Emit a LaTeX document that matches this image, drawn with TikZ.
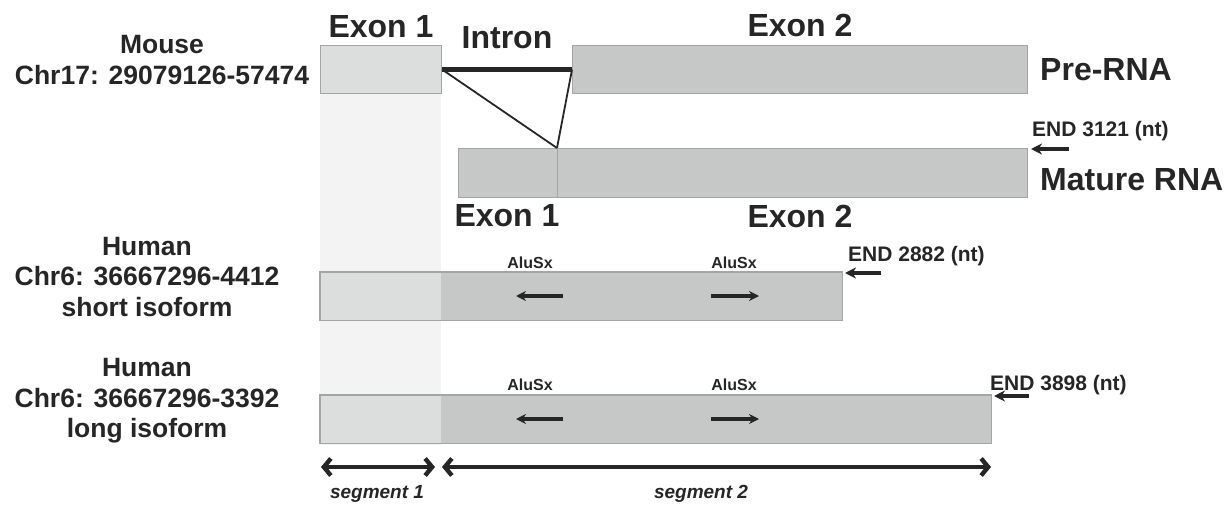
\documentclass[tikz,border=0pt]{standalone}
\usepackage{fontspec}
\setmainfont{Liberation Sans}
\usetikzlibrary{arrows.meta}
\definecolor{txt}{HTML}{262626}
\definecolor{boxA}{HTML}{C6C7C7}
\definecolor{boxB}{HTML}{DCDDDD}
\definecolor{colbg}{HTML}{F3F3F3}
\definecolor{edge}{HTML}{A4A5A5}
\begin{document}
\begin{tikzpicture}[x=1pt,y=-1pt,
  rbox/.style={draw=edge, line width=1.3pt, fill=boxA, inner sep=0pt, anchor=north west},
  pbox/.style={fill=#1, inner sep=0pt, anchor=north west, minimum height=48pt},
  big/.style={text=txt, inner sep=0pt, font=\bfseries\fontsize{32}{36}\selectfont},
  side/.style={text=txt, inner sep=0pt, align=center, font=\bfseries\fontsize{26.5}{30.5}\selectfont},
  endlab/.style={text=txt, inner sep=0pt, anchor=west, font=\bfseries\fontsize{21}{24}\selectfont},
  alu/.style={text=txt, inner sep=0pt, font=\bfseries\fontsize{16}{18}\selectfont},
  seg/.style={text=txt, inner sep=0pt, font=\bfseries\itshape\fontsize{19}{22}\selectfont},
  endarrow/.style={draw=txt, line width=3.2pt, -{Stealth[length=11pt,width=11pt]}},
  aluarrow/.style={draw=txt, line width=3.4pt, -{Stealth[length=10pt,width=10pt]}},
  segarrow/.style={draw=txt, line width=4.4pt, {Straight Barb[length=7pt,width=17pt]}-{Straight Barb[length=7pt,width=17pt]}},
]
\useasboundingbox (0,0) rectangle (1232,511);
% background column
\fill[colbg] (320,93) rectangle (441,445);

% pre-RNA
\node[rbox, fill=boxB, minimum width=121pt, minimum height=48pt] (e1) at (320,45) {};
\node[rbox, minimum width=455pt, minimum height=48pt] (e2) at (572,45) {};
\draw[txt, line width=5pt] (e1.east) -- (e2.west);

% mature RNA
\node[rbox, minimum width=99pt, minimum height=49pt] (m1) at (458,148) {};
\node[rbox, minimum width=470pt, minimum height=49pt] (m2) at (557,148) {};
\draw[txt, line width=1.8pt] (e1.east) -- (m2.north west);
\draw[txt, line width=1.8pt] (e2.west) -- (m2.north west);

% labels pre/mature
\node[big] (lx1) at (381,27) {Exon 1};
\node[big] (lin) at (507,38) {Intron};
\node[big] (lx2) at (800,25) {Exon 2};
\node[big, anchor=west] (lpre) at (1040,70) {Pre-RNA};
\node[big, anchor=west] (lmat) at (1040,180) {Mature RNA};
\node[big] (lmx1) at (507,216) {Exon 1};
\node[big] (lmx2) at (800,216) {Exon 2};
\node[endlab] (end1) at (1032,131) {END 3121 (nt)};
\coordinate (end1s) at (1069,149); \coordinate (end1e) at (1031,149);
\draw[endarrow] (end1s) -- (end1e);

% side labels
\node[side] (mouse) at (162,60) {Mouse\\Chr17: 29079126-57474};
\node[side] (hs) at (147,277) {Human\\Chr6: 36667296-4412\\short isoform};
\node[side] (hl) at (147,401) {Human\\Chr6: 36667296-3392\\long isoform};

% short isoform
\node[pbox=boxB, minimum width=121pt] (s1) at (320,272) {};
\node[pbox=boxA, minimum width=401pt] (s2) at (441,272) {};
\draw[edge, line width=1.3pt] (s1.north west) rectangle (s2.south east);
\node[alu] (sa1) at (530,263) {AluSx};
\node[alu] (sa2) at (734,263) {AluSx};
\coordinate (sa1s) at (563,296); \coordinate (sa1e) at (516,296);
\coordinate (sa2s) at (711,296); \coordinate (sa2e) at (759,296);
\draw[aluarrow] (sa1s) -- (sa1e);
\draw[aluarrow] (sa2s) -- (sa2e);
\node[endlab] (end2) at (848,256) {END 2882 (nt)};
\coordinate (end2s) at (881,273); \coordinate (end2e) at (845,273);
\draw[endarrow] (end2s) -- (end2e);

% long isoform
\node[pbox=boxB, minimum width=121pt] (l1) at (320,395) {};
\node[pbox=boxA, minimum width=550pt] (l2) at (441,395) {};
\draw[edge, line width=1.3pt] (l1.north west) rectangle (l2.south east);
\node[alu] (la1) at (530,385) {AluSx};
\node[alu] (la2) at (734,385) {AluSx};
\coordinate (la1s) at (563,419); \coordinate (la1e) at (516,419);
\coordinate (la2s) at (711,419); \coordinate (la2e) at (759,419);
\draw[aluarrow] (la1s) -- (la1e);
\draw[aluarrow] (la2s) -- (la2e);
\node[endlab] (end3) at (990,385) {END 3898 (nt)};
\coordinate (end3s) at (1029,396); \coordinate (end3e) at (994,396);
\draw[endarrow] (end3s) -- (end3e);

% segments
\coordinate (sg1a) at (321,467); \coordinate (sg1b) at (435,467);
\coordinate (sg2a) at (442,467); \coordinate (sg2b) at (991,467);
\draw[segarrow] (sg1a) -- (sg1b);
\draw[segarrow] (sg2a) -- (sg2b);
\node[seg] (seg1) at (377,494) {segment 1};
\node[seg] (seg2) at (701,494) {segment 2};
\end{tikzpicture}
\end{document}
